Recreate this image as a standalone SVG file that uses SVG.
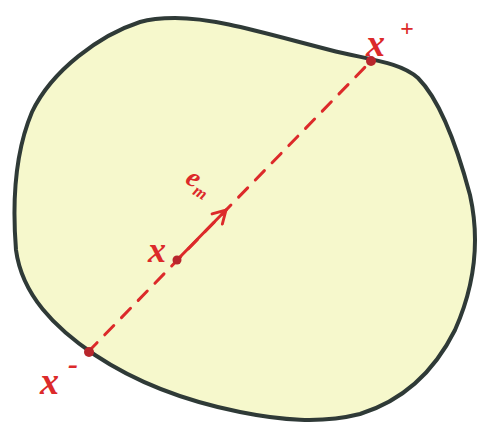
<svg xmlns="http://www.w3.org/2000/svg" width="482" height="423" viewBox="0 0 482 423">
<style>
.lbl{fill:#dc2a2a;font-family:"Liberation Serif",serif;font-style:italic;font-weight:bold}
.red{stroke:#dc2a2a;fill:none;stroke-linecap:round}
</style>
<defs>
<marker id="ah" viewBox="0 0 10 10" refX="8" refY="5" markerWidth="6" markerHeight="6" orient="auto">
<path d="M1,1 L8,5 L1,9" fill="none" stroke="#dc2a2a" stroke-width="1.6" stroke-linecap="round"/>
</marker>
</defs>
<rect width="482" height="423" fill="#ffffff"/>
<g id="body">
<path d="M175,18 C215,18 260,32 330,50 C370,60 400,62 418,78 C440,100 458,150 470,195 C480,240 475,285 455,330 C435,370 405,400 360,414 C320,424 280,420 240,412 C190,402 140,385 95,355 C55,328 22,295 16,250 C12,200 16,150 32,112 C52,70 100,35 140,22 C150,19 162,18 175,18 Z" fill="#f6f8cc" stroke="#2f3a37" stroke-width="4" stroke-linejoin="round"/>
</g>
<g id="connectors">
<line id="chord" class="red" x1="88" y1="352" x2="371" y2="61" stroke-width="3" stroke-dasharray="13,11"/>
<line id="arrow" class="red" x1="177" y1="260" x2="226" y2="210" stroke-width="3" marker-end="url(#ah)"/>
</g>
<g id="x-minus">
<circle cx="89" cy="352" r="5" fill="#b8262c"/>
<text class="lbl" x="40" y="394" font-size="38">x</text>
<text class="lbl" x="68" y="374" font-size="30">-</text>
</g>
<g id="x-point">
<circle cx="177" cy="260" r="4.5" fill="#b8262c"/>
<text class="lbl" x="148" y="262" font-size="36">x</text>
</g>
<g id="x-plus">
<circle cx="371" cy="61" r="5" fill="#b8262c"/>
<text class="lbl" x="366" y="56" font-size="38">x</text>
<text class="lbl" x="400" y="36" font-size="24">+</text>
</g>
<g id="e-label">
<text class="lbl" x="186" y="185" font-size="28" transform="rotate(30 190 180)">e<tspan font-size="17" dy="6">m</tspan></text>
</g>
</svg>
